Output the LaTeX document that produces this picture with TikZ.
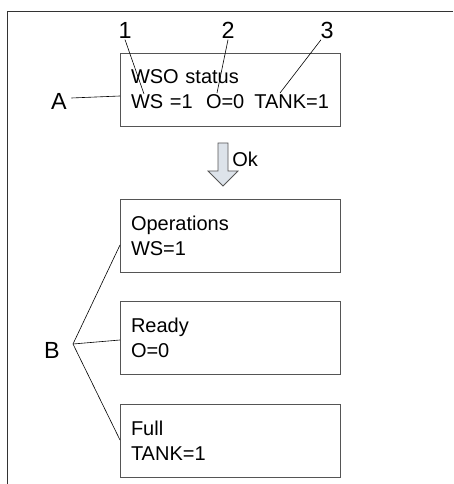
\documentclass[tikz,border=0pt]{standalone}
\usepackage{fontspec}
\setmainfont{Liberation Sans}
\usepackage{tikz}
\usetikzlibrary{positioning}

\definecolor{framegray}{HTML}{333333}
\definecolor{boxgray}{HTML}{555555}
\definecolor{arrowfill}{HTML}{DDE3EA}

\tikzset{
	statebox/.style={draw=boxgray, line width=0.7pt, rectangle, align=left,
		text width=148.5pt, inner xsep=8.25pt, minimum height=54.75pt,
		font=\fontsize{15}{18.75}\selectfont},
	callout/.style={font=\fontsize{17.5}{20}\selectfont, inner sep=1pt},
	leader/.style={draw=black, line width=0.45pt}
}

\begin{document}
\begin{tikzpicture}[x=0.75pt, y=-0.75pt]
	\useasboundingbox (0,0) rectangle (453,484);
	% Rahmen (oben und links)
	\draw[framegray, line width=0.7pt] (453,11) -- (7,11) -- (7,484);
	
	% Statuskasten
	\node[statebox] (wso) at (230,89.5) {WSO status\\\mbox{WS =1\hspace{10pt}O=0\hspace{7.5pt}TANK=1}};
	
	% Nummern und Hinweislinien
	\node[callout] (n1) at (125,30) {1};
	\node[callout] (n2) at (228,30) {2};
	\node[callout] (n3) at (327,30) {3};
	\coordinate (p1) at (144,94);
	\coordinate (p2) at (217,93);
	\coordinate (p3) at (280,93);
	\draw[leader] (n1.south) -- (p1);
	\draw[leader] (n2.south) -- (p2);
	\draw[leader] (n3.south west) ++(2,0) -- (p3);
	
	\node[callout] (la) at (59,101) {A};
	\coordinate (pa) at (120,96);
	\draw[leader] (la.east) ++(3,-3) -- (pa);
	
	% Pfeil mit Ok
	\draw[boxgray, fill=arrowfill, line width=0.6pt]
		(218,143) -- (228,143) -- (228,171) -- (238,171) -- (223,186)
		-- (208,171) -- (218,171) -- cycle;
	\node[font=\fontsize{15}{18}\selectfont, anchor=west, inner sep=0pt] (ok) at (232,159) {Ok};
	
	% Zustaende
	\node[statebox] (ops) at (230,236) {Operations\\WS=1};
	\node[statebox] (rdy) at (230,338) {Ready\\O=0};
	\node[statebox] (full) at (230,440.5) {Full\\TANK=1};
	
	\node[callout] (lb) at (52,350) {B};
	\coordinate (bv) at (73,344);
	\coordinate (pb1) at (120,245);
	\coordinate (pb2) at (120,340);
	\coordinate (pb3) at (120,440);
	\draw[leader] (pb1) -- (bv) -- (pb3);
	\draw[leader] (bv) -- (pb2);
\end{tikzpicture}
\end{document}
